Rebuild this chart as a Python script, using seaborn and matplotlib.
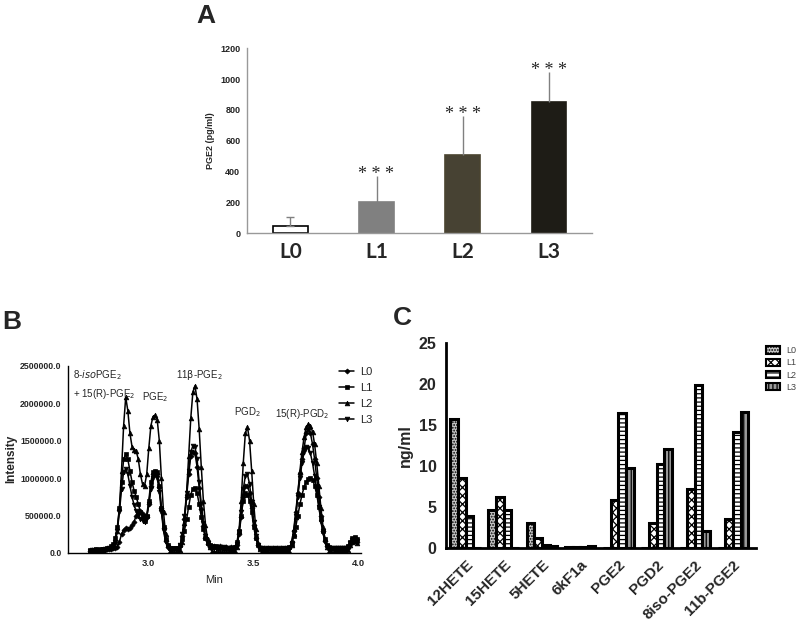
import numpy as np
import pandas as pd
import matplotlib
matplotlib.use("Agg")
import matplotlib.pyplot as plt
import seaborn as sns
from matplotlib import font_manager

# ---- panel A: PGE2 ELISA ----
a_groups = ["L0", "L1", "L2", "L3"]
a_values = [48, 200, 505, 852]
a_err_up = [55, 170, 255, 195]
a_colors = ["#ffffff", "#808080", "#4a4430", "#1f1d15"]

# ---- panel B: chromatogram (intensity in thousands, one point per 0.01 min from 2.72) ----
b_start, b_step, b_n = 2.72, 0.01, 128
b_L0 = [30, 35, 40, 35, 40, 45, 40, 45, 50, 50,
        55, 60, 60, 80, 150, 250, 310, 330, 320, 330,
        370, 420, 500, 550, 560, 520, 450, 480, 650, 900,
        1050, 1080, 1050, 880, 600, 330, 160, 80, 50, 50,
        50, 50, 50, 90, 220, 450, 750, 1050, 1300, 1350,
        1330, 1150, 870, 590, 360, 200, 120, 80, 80, 90,
        80, 70, 90, 80, 70, 80, 70, 80, 70, 80,
        110, 250, 480, 750, 890, 900, 800, 600, 380, 200,
        100, 60, 50, 55, 50, 60, 50, 55, 50, 55,
        50, 55, 50, 55, 50, 60, 140, 300, 550, 800,
        1050, 1250, 1400, 1600, 1650, 1600, 1450, 1250, 1000, 750,
        500, 300, 160, 90, 50, 50, 50, 50, 50, 50,
        50, 50, 50, 70, 120, 150, 160, 140]
b_L1 = [40, 45, 40, 50, 45, 50, 55, 50, 60, 70,
        90, 120, 200, 350, 600, 950, 1250, 1320, 1250, 1100,
        950, 830, 750, 650, 550, 480, 430, 500, 700, 950,
        1080, 1100, 1080, 900, 600, 350, 180, 100, 70, 60,
        60, 60, 60, 100, 180, 300, 450, 620, 780, 860,
        870, 800, 650, 480, 320, 200, 130, 100, 90, 80,
        90, 70, 80, 60, 70, 60, 50, 50, 60, 80,
        150, 300, 500, 700, 800, 780, 700, 550, 350, 200,
        110, 70, 60, 55, 50, 60, 55, 50, 60, 50,
        55, 50, 60, 55, 60, 80, 120, 220, 350, 500,
        650, 780, 880, 950, 990, 1000, 980, 900, 780, 620,
        450, 300, 180, 110, 80, 60, 60, 55, 60, 60,
        60, 60, 70, 90, 150, 200, 210, 190]
b_L2 = [20, 25, 30, 30, 35, 40, 45, 50, 60, 70,
        85, 100, 150, 300, 600, 1100, 1700, 2080, 1900, 1600,
        1420, 1380, 1360, 1250, 1050, 920, 900, 1050, 1400, 1700,
        1820, 1840, 1780, 1500, 1000, 550, 250, 100, 30, 10,
        5, 5, 10, 40, 150, 400, 800, 1300, 1800, 2150,
        2230, 2050, 1650, 1150, 700, 380, 180, 80, 30, 15,
        10, 10, 10, 10, 10, 10, 10, 10, 10, 20,
        80, 300, 700, 1200, 1600, 1680, 1500, 1100, 650, 320,
        130, 50, 20, 10, 10, 10, 10, 10, 10, 10,
        10, 10, 10, 10, 10, 30, 100, 250, 480, 800,
        1100, 1350, 1550, 1680, 1720, 1700, 1620, 1450, 1200, 900,
        600, 350, 180, 80, 30, 10, 10, 10, 10, 10,
        10, 10, 10, 40, 100, 150, 160, 130]
b_L3 = [30, 35, 30, 40, 40, 45, 40, 50, 55, 60,
        70, 90, 150, 300, 550, 850, 1080, 1120, 1050, 900,
        750, 640, 560, 500, 460, 430, 420, 480, 650, 850,
        1000, 1050, 1000, 820, 550, 300, 150, 80, 50, 50,
        50, 50, 50, 100, 250, 500, 800, 1100, 1350, 1430,
        1420, 1250, 950, 650, 400, 230, 130, 90, 70, 70,
        80, 70, 60, 70, 80, 70, 60, 70, 60, 70,
        120, 280, 550, 850, 1030, 1050, 920, 680, 420, 220,
        110, 60, 60, 55, 60, 55, 60, 55, 60, 55,
        60, 55, 60, 55, 60, 60, 130, 280, 500, 750,
        1000, 1200, 1350, 1420, 1400, 1330, 1200, 1030, 830, 620,
        420, 260, 150, 90, 60, 60, 60, 60, 60, 60,
        60, 60, 60, 80, 130, 170, 180, 160]

# ---- panel C: eicosanoids by LC-MS ----
c_compounds = ["12HETE", "15HETE", "5HETE", "6kF1a", "PGE2", "PGD2", "8iso-PGE2", "11b-PGE2"]
c_L0 = [15.7, 4.7, 3.1, 0.1, 0.0, 0.0, 0.0, 0.0]
c_L1 = [8.6, 6.2, 1.3, 0.1, 5.9, 3.1, 7.2, 3.5]
c_L2 = [3.9, 4.6, 0.35, 0.1, 16.4, 10.3, 19.9, 14.1]
c_L3 = [0.0, 0.0, 0.3, 0.3, 9.8, 12.1, 2.1, 16.6]

sns.set_style("white")
names = {f.name for f in font_manager.fontManager.ttflist}
narrow = "Liberation Sans Narrow" if "Liberation Sans Narrow" in names else "Liberation Sans"
plt.rcParams["font.family"] = ["Liberation Sans", "DejaVu Sans"]
plt.rcParams["hatch.linewidth"] = 0.9

fig = plt.figure(figsize=(8, 6.23), dpi=100)

# ================= A =================
axA = fig.add_axes([0.309, 0.6255, 0.431, 0.297])
dfA = pd.DataFrame({"group": a_groups, "value": a_values})
sns.barplot(data=dfA, x="group", y="value", hue="group", palette=a_colors,
            width=0.4, errorbar=None, legend=False, ax=axA)
for p, c in zip(axA.patches, a_colors):
    p.set_edgecolor("black" if c == "#ffffff" else c)
    p.set_linewidth(1.2)
axA.errorbar([0], a_values[:1], yerr=[[0], a_err_up[:1]], fmt="none",
             ecolor="#808080", elinewidth=1, capsize=3, capthick=1, zorder=1)
axA.errorbar([1, 2, 3], a_values[1:], yerr=[[0] * 3, a_err_up[1:]], fmt="none",
             ecolor="#808080", elinewidth=1, capsize=0, zorder=1)
for i in range(1, 4):
    axA.text(i, a_values[i] + a_err_up[i] + 12, "* * *", ha="center", va="center",
             fontsize=13, family="Liberation Serif")
axA.set_ylim(0, 1200)
axA.set_xlim(-0.5, 3.5)
axA.set_yticks(range(0, 1201, 200))
axA.set_yticklabels([str(v) for v in range(0, 1201, 200)], fontsize=6.5, fontweight="bold", color="#222222")
axA.set_xticks(range(4))
axA.set_xticklabels(a_groups, fontsize=15, fontweight="bold", family=["Lato", "DejaVu Sans"])
axA.set_xticks([0.5, 1.5, 2.5], minor=True)
axA.tick_params(axis="x", which="major", length=0, pad=6)
axA.tick_params(axis="x", which="minor", length=3, color="#999999", direction="out")
axA.tick_params(axis="y", length=3, color="#999999", direction="out", pad=2)
axA.set_xlabel("")
axA.set_ylabel("PGE2 (pg/ml)", fontsize=6.5, fontweight="bold", labelpad=4)
sns.despine(ax=axA)
for s in ["left", "bottom"]:
    axA.spines[s].set_color("#999999")
    axA.spines[s].set_linewidth(1)

# ================= B =================
axB = fig.add_axes([0.085, 0.1124, 0.366, 0.3006])
t = np.round(b_start + b_step * np.arange(b_n), 2)
series = {"L0": (b_L0, "D", 2.6), "L1": (b_L1, "s", 3.2), "L2": (b_L2, "^", 3.4), "L3": (b_L3, "v", 3.4)}
for name, (vals, mk, ms) in series.items():
    sns.lineplot(x=t, y=np.array(vals) * 1000, ax=axB, color="black", linewidth=1.1,
                 marker=mk, markersize=ms, markeredgewidth=0.5,
                 markeredgecolor="black", markerfacecolor="black", label=name)
axB.set_xlim(2.615, 4.01)
axB.set_ylim(0, 2500000)
axB.set_yticks(np.arange(0, 2500001, 500000))
axB.set_yticklabels([f"{v:.1f}" for v in np.arange(0, 2500001, 500000)],
                    fontsize=6.3, fontweight="bold", family=narrow)
axB.set_xticks([3.0, 3.5, 4.0])
axB.set_xticklabels(["3.0", "3.5", "4.0"], fontsize=6.8, fontweight="bold", family=narrow)
axB.tick_params(length=3, width=1, direction="out", color="black", pad=1.5)
axB.set_xlabel("Min", fontsize=8, family=narrow, labelpad=5)
axB.set_ylabel("Intensity", fontsize=8.5, fontweight="bold", labelpad=2)
sns.despine(ax=axB)
for s in ["left", "bottom"]:
    axB.spines[s].set_color("black")
    axB.spines[s].set_linewidth(1)
lab = dict(fontsize=7, family=narrow, ha="center", va="center")
axB.text(2.64, 2370000, r"8-$\mathit{iso}$PGE$_2$", ha="left", va="center", fontsize=7, family=narrow)
axB.text(2.64, 2120000, r"+ 15(R)-PGE$_2$", ha="left", va="center", fontsize=7, family=narrow)
axB.text(3.03, 2080000, r"PGE$_2$", **lab)
axB.text(3.24, 2370000, r"11$\mathrm{\beta}$-PGE$_2$", **lab)
axB.text(3.47, 1880000, r"PGD$_2$", **lab)
axB.text(3.73, 1860000, r"15(R)-PGD$_2$", **lab)
axB.legend(loc="upper left", bbox_to_anchor=(0.418, 0.418), bbox_transform=fig.transFigure,
           frameon=False, prop={"family": narrow, "size": 8}, handlelength=1.4,
           labelspacing=0.55, handletextpad=0.5, borderaxespad=0)

# ================= C =================
axC = fig.add_axes([0.558, 0.12, 0.387, 0.33])
c_levels = ["L0", "L1", "L2", "L3"]
dfC = pd.DataFrame({
    "compound": np.repeat(c_compounds, 4),
    "level": c_levels * len(c_compounds),
    "value": [v for row in zip(c_L0, c_L1, c_L2, c_L3) for v in row],
})
sns.barplot(data=dfC, x="compound", y="value", hue="level", order=c_compounds,
            hue_order=c_levels, errorbar=None, width=0.8, ax=axC)
c_faces = ["#c8c8c8", "#ffffff", "#ffffff", "#9a9a9a"]
c_hatch = ["......", "xxxx", "----", "||||"]
for cont, fc, h in zip(axC.containers, c_faces, c_hatch):
    for p in cont:
        p.set_facecolor(fc)
        p.set_edgecolor("black")
        p.set_linewidth(2.2)
        p.set_hatch(h)
axC.set_xlim(-0.5, 7.6)
axC.set_ylim(0, 25)
axC.set_yticks(range(0, 26, 5))
axC.set_yticklabels([str(v) for v in range(0, 26, 5)], fontsize=11.5, fontweight="bold")
axC.set_xticks(range(len(c_compounds)))
axC.set_xticklabels(c_compounds, rotation=45, ha="right", rotation_mode="anchor",
                    fontsize=11, fontweight="bold")
axC.tick_params(length=4, width=1.8, direction="out", color="black", pad=3)
axC.set_xlabel("")
axC.set_ylabel("ng/ml", fontsize=11.5, fontweight="bold", labelpad=4)
sns.despine(ax=axC)
for s in ["left", "bottom"]:
    axC.spines[s].set_color("black")
    axC.spines[s].set_linewidth(2)
leg = axC.legend(loc="upper left", bbox_to_anchor=(0.953, 0.45), bbox_transform=fig.transFigure,
                 frameon=False, fontsize=6.5, handlelength=1.6, handleheight=0.9,
                 labelspacing=0.35, handletextpad=0.6, borderaxespad=0)
for hnd, fc, h in zip(leg.legend_handles, c_faces, c_hatch):
    hnd.set_facecolor(fc)
    hnd.set_edgecolor("black")
    hnd.set_linewidth(1.5)
    hnd.set_hatch(h)
for txt in leg.get_texts():
    txt.set_color("#444444")

# panel letters
fig.text(206 / 800, 1 - 16 / 623, "A", fontsize=19, fontweight="bold", ha="center", va="center")
fig.text(12 / 800, 1 - 322 / 623, "B", fontsize=19, fontweight="bold", ha="center", va="center")
fig.text(402 / 800, 1 - 318 / 623, "C", fontsize=19, fontweight="bold", ha="center", va="center")

fig.savefig("out.png", dpi=100)
